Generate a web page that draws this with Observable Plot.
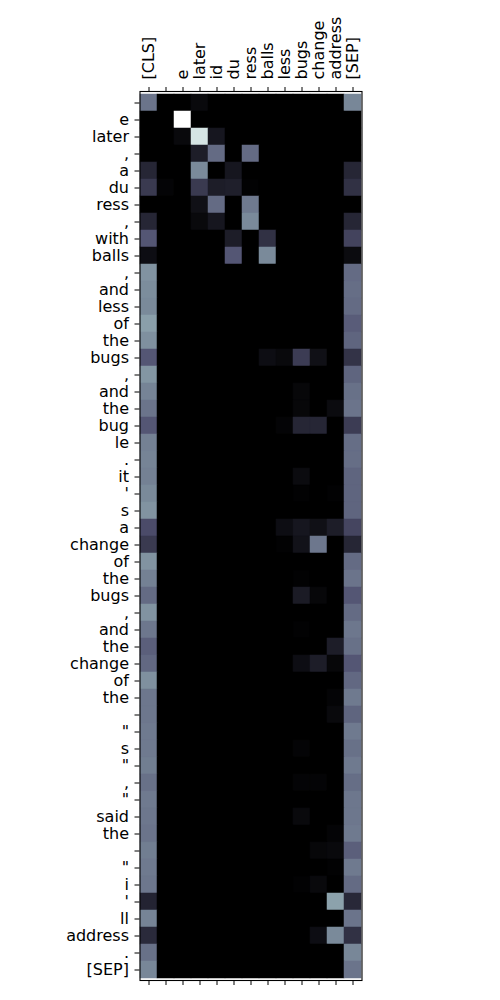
<!DOCTYPE html>
<html>
<head>
<meta charset="utf-8">
<script src="https://cdn.jsdelivr.net/npm/d3@7"></script>
<script src="https://cdn.jsdelivr.net/npm/@observablehq/plot@0.6"></script>
<style>
  html, body { margin: 0; padding: 0; background: white; }
  #chart { width: 500px; height: 1000px; }
  #chart svg text { font-family: "DejaVu Sans", sans-serif !important; font-size: 16px !important; fill: black; }
</style>
</head>
<body>
<div id="chart"></div>
<script>
// Column (key) tokens
const xLabels = ["[CLS]", "", "e", "later", "id", "du", "ress", "balls", "less", "bugs", "change", "address", "[SEP]"];
// Row (query) tokens
const yLabels = ["", "e", "later", ",", "a", "du", "ress", ",", "with", "balls", ",", "and", "less", "of", "the", "bugs", ",", "and", "the", "bug", "le", ".", "it", "'", "s", "a", "change", "of", "the", "bugs", ",", "and", "the", "change", "of", "the", "", "\"", "s", "\"", ",", "\"", "said", "the", "", "\"", "i", "'", "ll", "address", ".", "[SEP]"];
// Attention to [CLS] (first column), one value per row
const clsWeights = [0.48, 0, 0, 0, 0.17, 0.26, 0, 0.17, 0.38, 0.06, 0.58, 0.56, 0.55, 0.62, 0.57, 0.38, 0.59, 0.53, 0.48, 0.38, 0.52, 0.53, 0.52, 0.55, 0.58, 0.34, 0.26, 0.58, 0.52, 0.45, 0.58, 0.49, 0.41, 0.44, 0.57, 0.49, 0.49, 0.5, 0.5, 0.51, 0.47, 0.5, 0.49, 0.48, 0.51, 0.5, 0.49, 0.16, 0.53, 0.19, 0.47, 0.54];
// Attention to [SEP] (last column), one value per row
const sepWeights = [0.54, 0, 0, 0, 0.17, 0.22, 0, 0.17, 0.3, 0.05, 0.45, 0.46, 0.45, 0.4, 0.43, 0.23, 0.43, 0.47, 0.48, 0.27, 0.46, 0.46, 0.43, 0.43, 0.43, 0.31, 0.17, 0.45, 0.48, 0.38, 0.45, 0.49, 0.47, 0.38, 0.44, 0.5, 0.43, 0.5, 0.47, 0.5, 0.46, 0.49, 0.49, 0.5, 0.41, 0.5, 0.45, 0.18, 0.48, 0.22, 0.54, 0.48];
// Other non-zero weights: [row, column, weight]
const otherWeights = [
  [0, 3, 0.04],
  [1, 2, 1.0],
  [2, 2, 0.04], [2, 3, 0.88], [2, 4, 0.1],
  [3, 3, 0.13], [3, 4, 0.45], [3, 6, 0.45],
  [4, 3, 0.55], [4, 5, 0.1],
  [5, 1, 0.02], [5, 3, 0.26], [5, 4, 0.13], [5, 5, 0.14], [5, 6, 0.01],
  [6, 3, 0.07], [6, 4, 0.45], [6, 6, 0.5],
  [7, 3, 0.04], [7, 4, 0.1], [7, 6, 0.55],
  [8, 5, 0.13], [8, 7, 0.22],
  [9, 5, 0.38], [9, 7, 0.55],
  [15, 7, 0.06], [15, 8, 0.04], [15, 9, 0.27], [15, 10, 0.07],
  [17, 9, 0.03],
  [18, 9, 0.03], [18, 11, 0.05],
  [19, 8, 0.02], [19, 9, 0.17], [19, 10, 0.17],
  [22, 9, 0.05],
  [23, 9, 0.01], [23, 11, 0.01],
  [25, 8, 0.06], [25, 9, 0.1], [25, 10, 0.07], [25, 11, 0.13],
  [26, 8, 0.01], [26, 9, 0.08], [26, 10, 0.49],
  [28, 9, 0.01],
  [29, 9, 0.12], [29, 10, 0.03],
  [31, 9, 0.01],
  [32, 11, 0.13],
  [33, 9, 0.06], [33, 10, 0.13], [33, 11, 0.03],
  [35, 11, 0.02],
  [36, 11, 0.04],
  [38, 9, 0.02],
  [40, 9, 0.02], [40, 10, 0.02],
  [42, 9, 0.04],
  [43, 11, 0.02],
  [44, 10, 0.03], [44, 11, 0.04],
  [45, 11, 0.01],
  [46, 9, 0.01], [46, 10, 0.04],
  [47, 11, 0.63],
  [49, 10, 0.06], [49, 11, 0.55]
];

// Build full table
const nRows = yLabels.length, nCols = xLabels.length;
const grid = Array.from({length: nRows}, () => new Array(nCols).fill(0));
clsWeights.forEach((v, r) => grid[r][0] = v);
sepWeights.forEach((v, r) => grid[r][nCols - 1] = v);
otherWeights.forEach(([r, c, v]) => grid[r][c] = v);
const table = [];
for (let r = 0; r < nRows; r++) for (let c = 0; c < nCols; c++) table.push({row: r, col: c, v: grid[r][c]});

const chart = Plot.plot({
  width: 500,
  height: 1000,
  marginLeft: 139.5,
  marginRight: 138.5,
  marginTop: 91,
  marginBottom: 20,
  style: {fontFamily: "DejaVu Sans", fontSize: "16px", background: "white", color: "black"},
  x: {type: "band", domain: d3.range(nCols), padding: 0, axis: null},
  y: {type: "band", domain: d3.range(nRows), padding: 0, axis: null},
  color: {
    type: "linear",
    domain: [0, 0.365079, 0.746032, 1],
    range: ["#000000", "#515171", "#a6c6c6", "#ffffff"],
    interpolate: "rgb",
    clamp: true
  },
  marks: [
    Plot.cell(table, {x: "col", y: "row", fill: "v", stroke: "v", strokeWidth: 0.5}),
    Plot.frame({stroke: "black", strokeWidth: 1.1}),
    Plot.axisX({anchor: "top", tickRotate: -90, tickFormat: i => xLabels[i], tickSize: 5, tickPadding: 7, label: null}),
    Plot.axisX({anchor: "bottom", tickFormat: () => "", tickSize: 5, label: null}),
    Plot.axisY({anchor: "left", tickFormat: i => yLabels[i], tickSize: 5, tickPadding: 6, label: null})
  ]
});
document.getElementById("chart").appendChild(chart);
</script>
</body>
</html>
